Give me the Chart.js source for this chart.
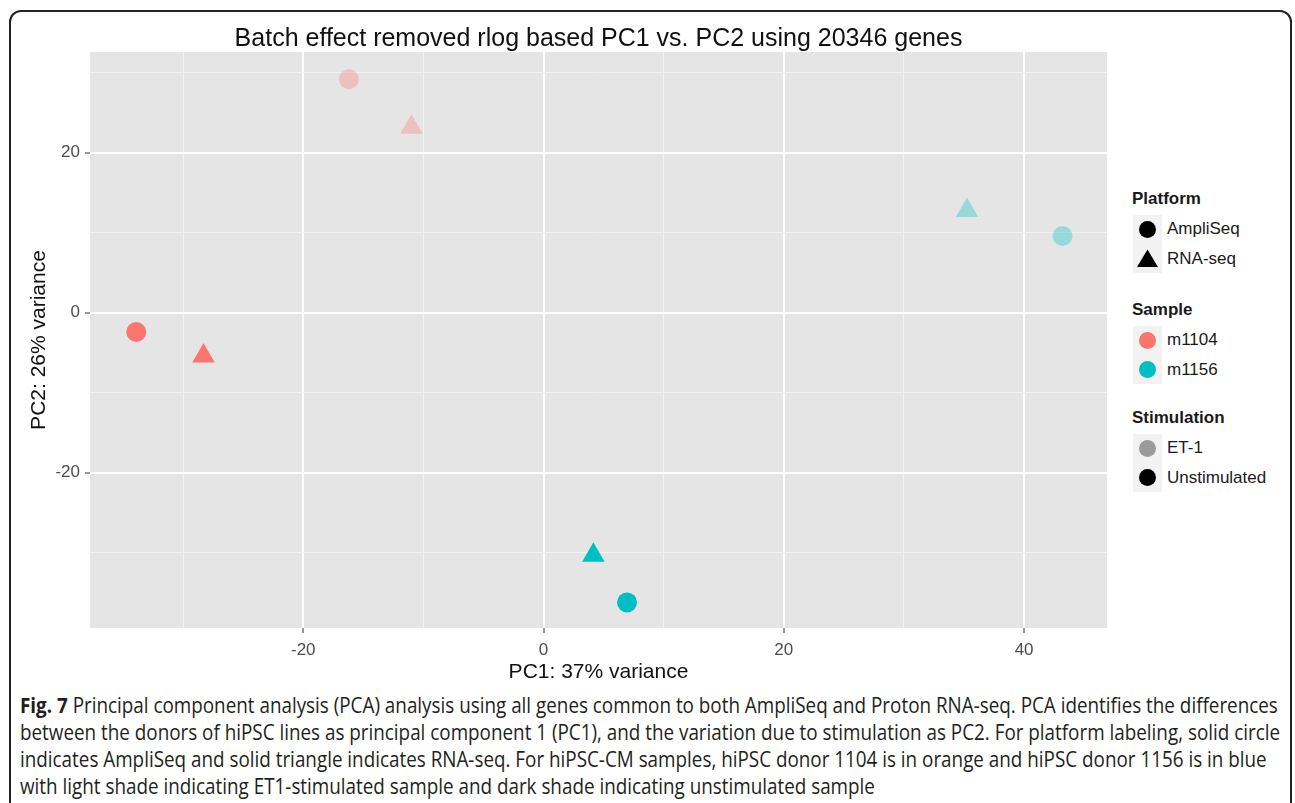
<!DOCTYPE html>
<html>
<head>
<meta charset="utf-8">
<script src="https://cdn.jsdelivr.net/npm/chart.js@4.4.1/dist/chart.umd.min.js"></script>
<style>
  html, body { margin: 0; padding: 0; background: #fff; width: 1295px; height: 803px; overflow: hidden; }
  .frame { position: absolute; left: 9px; top: 10px; width: 1283px; height: 840px; box-sizing: border-box; border: 2px solid #222; border-radius: 12px; }
  #pca { position: absolute; left: 0; top: 0; }
  .lg { position: absolute; font-family: "Liberation Sans", Arial, sans-serif; color: #1a1a1a; white-space: nowrap; }
  .lg-title { font-weight: bold; font-size: 17px; line-height: 20px; }
  .lg-label { font-size: 17px; line-height: 20px; }
  .lg-key { position: absolute; width: 29px; height: 29px; background: #f2f2f2; }
  .caption div { position: absolute; left: 20px; white-space: nowrap; transform-origin: 0 50%; line-height: 27px;
    font-family: "Open Sans", "Noto Sans", sans-serif; font-size: 21px; color: #231f20; }
  .caption b { font-weight: bold; }
</style>
</head>
<body>
<div class="frame"></div>
<canvas id="pca" width="1120" height="685"></canvas>
<div id="legend"></div>
<div class="caption" id="caption"></div>
<script>
// PCA scores
const pc1 = [-16.2, -11.0, -33.9, -28.3, 35.25, 43.2, 4.15, 6.95]
const pc2 = [29.2, 23.2, -2.4, -5.4, 12.8, 9.6, -30.3, -36.2]
const platform = ['AmpliSeq', 'RNA-seq', 'AmpliSeq', 'RNA-seq', 'RNA-seq', 'AmpliSeq', 'RNA-seq', 'AmpliSeq']
const sample = ['m1104', 'm1104', 'm1104', 'm1104', 'm1156', 'm1156', 'm1156', 'm1156']
const stimulation = ['ET-1', 'ET-1', 'Unstimulated', 'Unstimulated', 'ET-1', 'ET-1', 'Unstimulated', 'Unstimulated']

const platformLevels = ['AmpliSeq', 'RNA-seq']
const sampleLevels = ['m1104', 'm1156']
const stimulationLevels = ['ET-1', 'Unstimulated']

const xTickLabels = [-20, 0, 20, 40]
const yTickLabels = [-20, 0, 20]

const captionLines = [
  ['Fig. 7', ' Principal component analysis (PCA) analysis using all genes common to both AmpliSeq and Proton RNA-seq. PCA identifies the differences'],
  ['', 'between the donors of hiPSC lines as principal component 1 (PC1), and the variation due to stimulation as PC2. For platform labeling, solid circle'],
  ['', 'indicates AmpliSeq and solid triangle indicates RNA-seq. For hiPSC-CM samples, hiPSC donor 1104 is in orange and hiPSC donor 1156 is in blue'],
  ['', 'with light shade indicating ET1-stimulated sample and dark shade indicating unstimulated sample']
]

const FONT = '"Liberation Sans", Arial, sans-serif'
const shapeOf = { 'AmpliSeq': 'circle', 'RNA-seq': 'triangle' }
const sampleRgb = { 'm1104': [248, 118, 109], 'm1156': [0, 191, 196] }
const alphaOf = { 'ET-1': 0.33, 'Unstimulated': 1 }

const pointColor = i => {
  const [r, g, b] = sampleRgb[sample[i]]
  return `rgba(${r},${g},${b},${alphaOf[stimulation[i]]})`
}
const isMajor = v => Math.abs(v) % 20 === 0

const gridOpts = {
  color: c => (c.tick && isMajor(c.tick.value)) ? '#ffffff' : '#f2f2f2',
  lineWidth: c => (c.tick && isMajor(c.tick.value)) ? 2 : 1,
  tickColor: c => (c.tick && isMajor(c.tick.value)) ? '#333333' : 'rgba(0,0,0,0)',
  tickWidth: 1,
  tickLength: 5
}

const panelBg = {
  id: 'panelBg',
  beforeDraw(chart) {
    const { ctx, chartArea: { left, top, width, height } } = chart
    ctx.save()
    ctx.fillStyle = '#e5e5e5'
    ctx.fillRect(left, top, width, height)
    ctx.restore()
  }
}

new Chart(document.getElementById('pca'), {
  type: 'scatter',
  data: {
    datasets: [{
      data: pc1.map((x, i) => ({ x, y: pc2[i] })),
      pointStyle: c => shapeOf[platform[c.dataIndex]],
      pointRadius: c => platform[c.dataIndex] === 'RNA-seq' ? 13 : 10,
      pointBackgroundColor: c => pointColor(c.dataIndex),
      pointBorderWidth: 0,
      pointBorderColor: 'rgba(0,0,0,0)'
    }]
  },
  options: {
    responsive: false,
    devicePixelRatio: 1,
    animation: false,
    events: [],
    layout: { padding: { left: 0, right: 13, top: 0, bottom: 0 } },
    plugins: {
      legend: { display: false },
      tooltip: { enabled: false },
      title: {
        display: true,
        text: 'Batch effect removed rlog based PC1 vs. PC2 using 20346 genes',
        fullSize: false,
        color: '#111',
        font: { family: FONT, size: 25, weight: 'normal', lineHeight: 1 },
        padding: { top: 27, bottom: 0 }
      }
    },
    scales: {
      x: {
        type: 'linear',
        min: -37.75,
        max: 46.9,
        border: { display: false },
        grid: gridOpts,
        ticks: {
          stepSize: 10,
          includeBounds: false,
          autoSkip: false,
          maxRotation: 0,
          padding: 7,
          color: '#4d4d4d',
          font: { family: FONT, size: 17 },
          callback: v => xTickLabels.includes(v) ? String(v) : ''
        },
        title: { display: true, text: 'PC1: 37% variance', color: '#111', font: { family: FONT, size: 21 }, padding: 0 },
        afterFit: s => { s.height = 57 }
      },
      y: {
        type: 'linear',
        min: -39.4,
        max: 32.6,
        border: { display: false },
        grid: gridOpts,
        ticks: {
          stepSize: 10,
          includeBounds: false,
          autoSkip: false,
          padding: 5,
          color: '#4d4d4d',
          font: { family: FONT, size: 17 },
          callback: v => yTickLabels.includes(v) ? String(v) : ''
        },
        title: { display: true, text: 'PC2: 26% variance', color: '#111', font: { family: FONT, size: 21 }, padding: { top: 27, bottom: 0 } },
        afterFit: s => { s.width = 90 }
      }
    }
  },
  plugins: [panelBg]
})

// legend, built from the level arrays
const legendGroups = [
  { title: 'Platform', levels: platformLevels, key: l => ({ shape: shapeOf[l], fill: '#000' }) },
  { title: 'Sample', levels: sampleLevels, key: l => ({ shape: 'circle', fill: `rgb(${sampleRgb[l].join(',')})` }) },
  { title: 'Stimulation', levels: stimulationLevels, key: l => ({ shape: 'circle', fill: l === 'ET-1' ? 'rgba(0,0,0,0.36)' : '#000' }) }
]
const groupTitleY = [199, 310, 418]
const legendEl = document.getElementById('legend')

function symbolSvg({ shape, fill }) {
  const s = shape === 'triangle'
    ? `<polygon points="14.5,5.5 25,23 4,23" fill="${fill}"/>`
    : `<circle cx="14.5" cy="14.5" r="8.5" fill="${fill}"/>`
  return `<svg width="29" height="29" style="position:absolute;left:0;top:0">${s}</svg>`
}

legendGroups.forEach((g, gi) => {
  const t = document.createElement('div')
  t.className = 'lg lg-title'
  t.textContent = g.title
  t.style.left = '1132px'
  t.style.top = (groupTitleY[gi] - 10) + 'px'
  legendEl.appendChild(t)
  g.levels.forEach((lvl, li) => {
    const cy = groupTitleY[gi] + 30 + li * 29.5
    const k = document.createElement('div')
    k.className = 'lg-key'
    k.style.left = '1133px'
    k.style.top = (cy - 14.5) + 'px'
    k.innerHTML = symbolSvg(g.key(lvl))
    legendEl.appendChild(k)
    const lab = document.createElement('div')
    lab.className = 'lg lg-label'
    lab.textContent = lvl
    lab.style.left = '1167px'
    lab.style.top = (cy - 10) + 'px'
    legendEl.appendChild(lab)
  })
})

// caption: the first three lines fill the width, one common squeeze for all lines
const captionRight = [1276, 1274, 1274]
const capEl = document.getElementById('caption')
const capDivs = captionLines.map(([bold, rest], i) => {
  const d = document.createElement('div')
  d.style.top = (692 + i * 27) + 'px'
  if (bold) { const b = document.createElement('b'); b.textContent = bold; d.appendChild(b) }
  d.appendChild(document.createTextNode(rest))
  capEl.appendChild(d)
  return d
})
function fitCaption() {
  capDivs.forEach(d => { d.style.transform = 'none' })
  const ratios = captionRight.map((r, i) => (r - 20) / capDivs[i].offsetWidth)
  const k = ratios.reduce((a, b) => a + b, 0) / ratios.length
  capDivs.forEach(d => { d.style.transform = `scaleX(${k})` })
}
fitCaption()
if (document.fonts) document.fonts.ready.then(fitCaption)
</script>
</body>
</html>
